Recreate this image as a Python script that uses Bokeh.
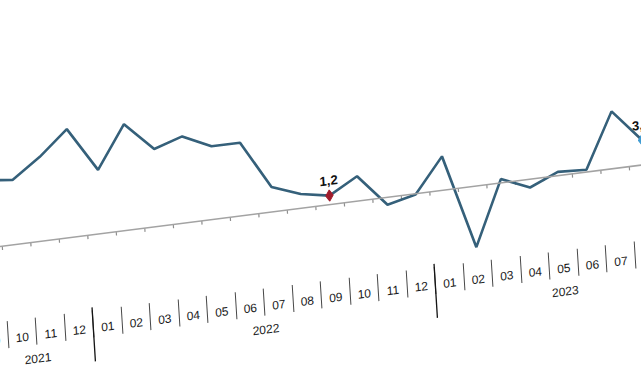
from bokeh.plotting import figure
from bokeh.models import Range1d, LinearAxis, FixedTicker, ColumnDataSource, Span
from bokeh.embed import file_html
from bokeh.resources import INLINE
from bokeh.core.properties import value

# ---------------- data ----------------
years = ["2021"] * 4 + ["2022"] * 12 + ["2023"] * 9
months = ["09", "10", "11", "12",
          "01", "02", "03", "04", "05", "06", "07", "08", "09", "10", "11", "12",
          "01", "02", "03", "04", "05", "06", "07", "08", "09"]
values = [9.0, 8.6, 11.2, 14.4,
          8.5, 14.1, 10.3, 11.5, 9.7, 9.7, 3.3, 1.9, 1.2, 3.3, -1.0, -0.1,
          4.5, -8.1, 0.5, -1.1, 0.5, 0.3, 7.6, 3.3]
red_point = ("2022", "09")    # same month, previous year
blue_point = ("2023", "08")   # latest month

# ---------------- derived ----------------
pos = list(range(len(values)))
keys = list(zip(years, months))
month_centers = [float(i) for i in range(len(months))]
month_bounds = [i - 0.5 for i in range(len(months) + 1)]
year_names = list(dict.fromkeys(years))
year_centers = [sum(i for i, y in enumerate(years) if y == yn) / years.count(yn) for yn in year_names]
year_bounds = [-0.5] + [i - 0.5 for i in range(1, len(years)) if years[i] != years[i - 1]] + [len(years) - 0.5]

def fmt(v):
    return f"{v:.1f}".replace(".", ",")

# ---------------- geometry / style ----------------
PX_X, PX_Y = 28.5, 7.5
X_START, X_END = -1.0, 23.7
Y_START, Y_END = -10.0, 20.0
TOP = 10
SKEW_Y, SKEW_X, TX, TY = -0.127, 0.0625, -51, 91.2

LINE_COLOR = "#35607a"
FONT = "Liberation Sans"

p = figure(
    output_backend="svg", toolbar_location=None,
    frame_width=round((X_END - X_START) * PX_X),
    frame_height=round((Y_END - Y_START) * PX_Y),
    x_range=Range1d(X_START, X_END), y_range=Range1d(Y_START, Y_END),
    x_axis_type=None, y_axis_type=None,
    min_border_left=0, min_border_right=0, min_border_top=TOP, min_border_bottom=10,
    background_fill_color="white", border_fill_color="white",
)
p.outline_line_color = None
p.grid.visible = False

# zero axis line with boundary ticks
p.add_layout(Span(location=0, dimension="width", line_color="#a3a3a3", line_width=1.6))
p.segment(x0=month_bounds, y0=[0] * len(month_bounds), x1=month_bounds,
          y1=[-0.5] * len(month_bounds), line_color="#8f8f8f", line_width=1.2)

# data line
src = ColumnDataSource(dict(x=pos, y=values))
p.line("x", "y", source=src, line_color=LINE_COLOR, line_width=2.6)

# highlighted points and their labels
ri = keys.index(red_point)
bi = keys.index(blue_point)
p.scatter([pos[ri]], [values[ri]], marker="diamond", size=11,
          fill_color="#a01c2c", line_color="#a01c2c")
p.scatter([pos[bi]], [values[bi]], marker="diamond", size=11,
          fill_color="#3f9bd2", line_color="#3f9bd2")
p.text(x=[pos[ri], pos[bi]], y=[values[ri], values[bi]],
       text=[fmt(values[ri]), fmt(values[bi])],
       y_offset=-15, text_align="center", text_baseline="alphabetic",
       text_font=value(FONT), text_font_style="bold", text_font_size="13px",
       text_color="#111111")

# month axis (labels + separators)
max_ = LinearAxis(
    ticker=FixedTicker(ticks=month_centers, minor_ticks=month_bounds),
    major_label_overrides={c: m for c, m in zip(month_centers, months)},
    axis_line_color=None, major_tick_line_color=None,
    major_tick_in=0, major_tick_out=0,
    minor_tick_in=0, minor_tick_out=27,
    minor_tick_line_color="#484848", minor_tick_line_width=1,
    major_label_standoff=-14,
    major_label_text_font=FONT, major_label_text_font_size="12px",
    major_label_text_color="#1a1a1a",
)
p.add_layout(max_, "below")

# year axis (group labels + long separators)
yax = LinearAxis(
    ticker=FixedTicker(ticks=year_centers, minor_ticks=year_bounds),
    major_label_overrides={c: y for c, y in zip(year_centers, year_names)},
    axis_line_color=None, major_tick_line_color=None,
    major_tick_in=0, major_tick_out=0,
    minor_tick_in=28, minor_tick_out=26,
    minor_tick_line_color="#151515", minor_tick_line_width=1.3,
    major_label_standoff=-15,
    major_label_text_font=FONT, major_label_text_font_size="12px",
    major_label_text_color="#1a1a1a",
)
p.add_layout(yax, "below")

# the reference is a slanted photo of the chart: skew the whole figure
p.styles = {
    "transform": f"matrix(1, {SKEW_Y}, {SKEW_X}, 1, {TX}, {TY})",
    "transform-origin": "0 0",
}
try:
    from bokeh.models import GlobalInlineStyleSheet
    p.stylesheets = [GlobalInlineStyleSheet(css="html, body { overflow: hidden; }")]
except Exception:
    pass

open("out.html", "w").write(file_html(p, INLINE))
